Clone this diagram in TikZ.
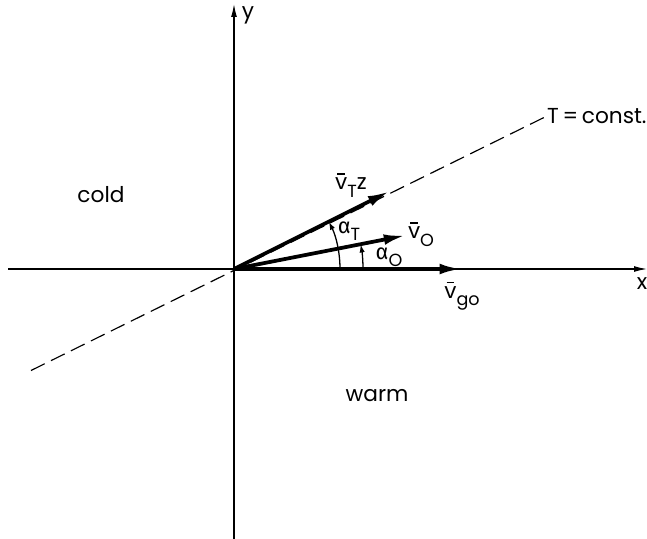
\documentclass[tikz,border=0pt]{standalone}
\usepackage{fontspec}
\setmainfont{Poppins}
\newfontfamily\grk{Fira Sans}
\usetikzlibrary{arrows.meta}
\newcommand\sbs[1]{\raisebox{-0.6ex}{\fontsize{15}{15}\selectfont #1}}
\newcommand\hv{\leavevmode\rlap{\kern0.1em\raisebox{0.7em}{\rule{0.36em}{0.09em}}}v}
\begin{document}
\begin{tikzpicture}[x=0.03cm,y=-0.03cm,
  axis/.style={line width=1pt,-{Latex[length=11pt,width=5pt]}},
  vec/.style={line width=3.2pt,-{Latex[length=19pt,width=9pt]}},
  angarc/.style={line width=1.1pt,-{Latex[length=7pt,width=4.5pt]}},
  tline/.style={line width=1pt,dash pattern=on 13pt off 6pt},
  lbl/.style={inner sep=0pt,font=\fontsize{18.5}{20}\selectfont}]
\useasboundingbox (0,0) rectangle (647,539);
\coordinate (O) at (234,269);
\coordinate (xl) at (8,269);
\coordinate (xr) at (647,269);
\coordinate (yt) at (234,4);
\coordinate (yb) at (234,539);
\coordinate (dl) at (31,370.5);
\coordinate (vgo) at (462,269);
\coordinate (vO) at (406,235.3);
\coordinate (vT) at (390,191);
\coordinate (aT) at (340,269);
\coordinate (aO) at (363,269);
% labels
\node[lbl,anchor=west] (tc) at (547,116) {T\,=\,const.};
\node[lbl] (ylab) at (248,15) {y};
\node[lbl] (xlab) at (642,284) {x};
\node[lbl] (cold) at (101,195) {cold};
\node[lbl] (warm) at (377,396) {warm};
\node[lbl] (lvT) at (351,185) {\hv\sbs{T}z};
\node[lbl] (laT) at (349,231) {{\grk α}\sbs{T}};
\node[lbl] (lvO) at (421,234) {\hv\sbs{O}};
\node[lbl] (laO) at (389,257) {{\grk α}\sbs{O}};
\node[lbl] (lvgo) at (462,296) {\hv\sbs{go}};
% axes
\draw[axis] (xl) -- (xr);
\draw[axis] (yb) -- (yt);
% T = const line
\draw[tline] (dl) -- (tc.west);
% vectors
\draw[vec] (O) -- (vgo);
\draw[vec] (O) -- (vO);
\draw[vec] (O) -- (vT);
% angle arcs
\draw[angarc] (aT) arc[start angle=0,end angle=-26.57,radius=106];
\draw[angarc] (aO) arc[start angle=0,end angle=-11.05,radius=129];
\end{tikzpicture}
\end{document}
